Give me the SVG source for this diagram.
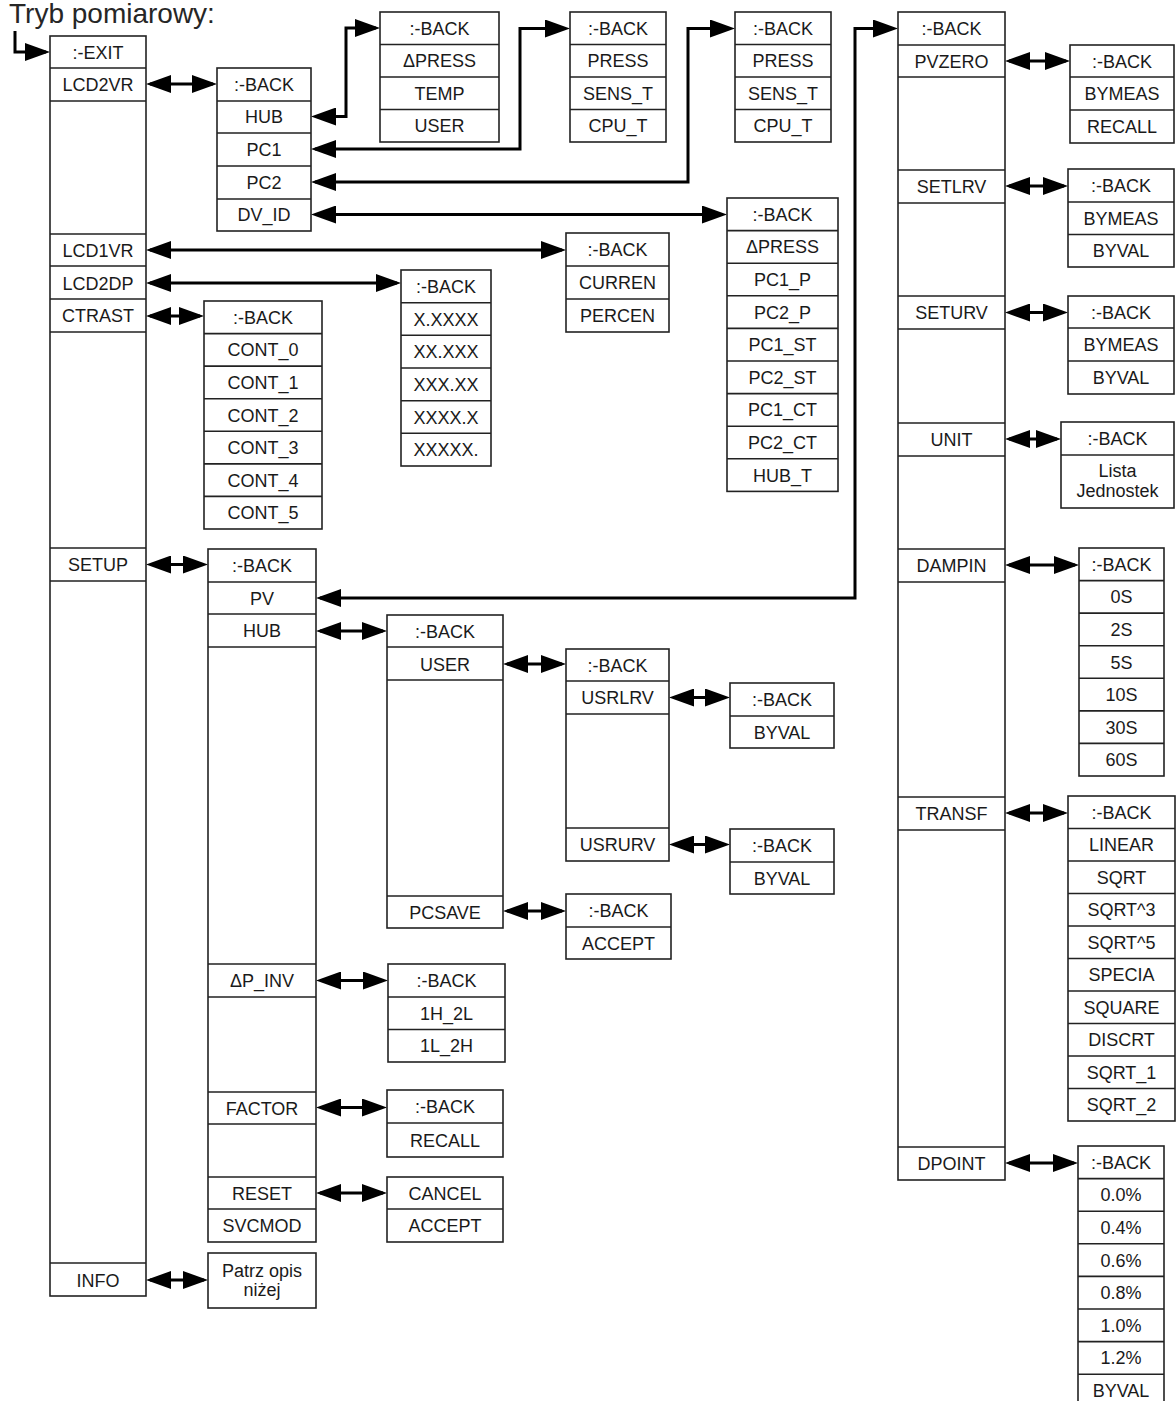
<svg xmlns="http://www.w3.org/2000/svg" width="1176" height="1401" viewBox="0 0 1176 1401">
<style>
.b{fill:#fff;stroke:#222;stroke-width:1.6}
.s{stroke:#222;stroke-width:1.6}
.t{font-family:"Liberation Sans",Arial,sans-serif;font-size:18px;fill:#1a1a1a;text-anchor:middle}
.c{fill:none;stroke:#000;stroke-width:3}
.title{font-family:"Liberation Sans",Arial,sans-serif;font-size:28px;fill:#262626}
</style>
<defs>
<marker id="ah" markerUnits="userSpaceOnUse" markerWidth="26" markerHeight="18" refX="21" refY="9" orient="auto-start-reverse">
<path d="M0,0 L25,9 L0,18 Z" fill="#000"/>
</marker>
</defs>
<rect width="1176" height="1401" fill="#fff"/>
<text class="title" x="9" y="23">Tryb pomiarowy:</text>

<g id="connectors">
<path class="c" d="M15,31 V52 H46" marker-end="url(#ah)"/>
<path class="c" d="M150,84 H213" marker-start="url(#ah)" marker-end="url(#ah)"/>
<path class="c" d="M315,116.5 H346 V28 H376" marker-start="url(#ah)" marker-end="url(#ah)"/>
<path class="c" d="M315,149 H520 V28.5 H566" marker-start="url(#ah)" marker-end="url(#ah)"/>
<path class="c" d="M315,182 H688 V28.5 H731" marker-start="url(#ah)" marker-end="url(#ah)"/>
<path class="c" d="M315,214.5 H723" marker-start="url(#ah)" marker-end="url(#ah)"/>
<path class="c" d="M150,250 H562" marker-start="url(#ah)" marker-end="url(#ah)"/>
<path class="c" d="M150,283 H397" marker-start="url(#ah)" marker-end="url(#ah)"/>
<path class="c" d="M150,316 H200" marker-start="url(#ah)" marker-end="url(#ah)"/>
<path class="c" d="M150,564.5 H204" marker-start="url(#ah)" marker-end="url(#ah)"/>
<path class="c" d="M150,1280 H204" marker-start="url(#ah)" marker-end="url(#ah)"/>
<path class="c" d="M320,598 H855 V28.5 H894" marker-start="url(#ah)" marker-end="url(#ah)"/>
<path class="c" d="M320,631 H383" marker-start="url(#ah)" marker-end="url(#ah)"/>
<path class="c" d="M507,664 H562" marker-start="url(#ah)" marker-end="url(#ah)"/>
<path class="c" d="M673,697.5 H726" marker-start="url(#ah)" marker-end="url(#ah)"/>
<path class="c" d="M673,844.5 H726" marker-start="url(#ah)" marker-end="url(#ah)"/>
<path class="c" d="M507,911 H562" marker-start="url(#ah)" marker-end="url(#ah)"/>
<path class="c" d="M320,980.5 H384" marker-start="url(#ah)" marker-end="url(#ah)"/>
<path class="c" d="M320,1107.5 H383" marker-start="url(#ah)" marker-end="url(#ah)"/>
<path class="c" d="M320,1193 H383" marker-start="url(#ah)" marker-end="url(#ah)"/>
<path class="c" d="M1009,61 H1066" marker-start="url(#ah)" marker-end="url(#ah)"/>
<path class="c" d="M1009,186 H1064" marker-start="url(#ah)" marker-end="url(#ah)"/>
<path class="c" d="M1009,312.5 H1064" marker-start="url(#ah)" marker-end="url(#ah)"/>
<path class="c" d="M1009,439 H1057" marker-start="url(#ah)" marker-end="url(#ah)"/>
<path class="c" d="M1009,565 H1075" marker-start="url(#ah)" marker-end="url(#ah)"/>
<path class="c" d="M1009,813 H1064" marker-start="url(#ah)" marker-end="url(#ah)"/>
<path class="c" d="M1009,1163 H1074" marker-start="url(#ah)" marker-end="url(#ah)"/>
</g>

<g id="main-menu">
<rect class="b" x="50" y="36" width="96" height="1260"/>
<path class="s" d="M50,68H146M50,101H146M50,234H146M50,266H146M50,299H146M50,332H146M50,548H146M50,581H146M50,1263H146"/>
<text class="t" x="98" y="58.5">:-EXIT</text>
<text class="t" x="98" y="90.5">LCD2VR</text>
<text class="t" x="98" y="256.5">LCD1VR</text>
<text class="t" x="98" y="289.5">LCD2DP</text>
<text class="t" x="98" y="321.5">CTRAST</text>
<text class="t" x="98" y="571">SETUP</text>
<text class="t" x="98" y="1286.5">INFO</text>
</g>

<g id="lcd2vr-menu">
<rect class="b" x="217" y="68" width="94" height="163"/>
<path class="s" d="M217,101H311M217,133H311M217,166H311M217,199H311"/>
<text class="t" x="264" y="90.5">:-BACK</text>
<text class="t" x="264" y="123">HUB</text>
<text class="t" x="264" y="155.5">PC1</text>
<text class="t" x="264" y="188.5">PC2</text>
<text class="t" x="264" y="221">DV_ID</text>
</g>

<g id="hub-values">
<rect class="b" x="380" y="12" width="119" height="130"/>
<path class="s" d="M380,44.5H499M380,77H499M380,109.5H499"/>
<text class="t" x="439.5" y="34.5">:-BACK</text>
<text class="t" x="439.5" y="67">ΔPRESS</text>
<text class="t" x="439.5" y="99.5">TEMP</text>
<text class="t" x="439.5" y="132">USER</text>
</g>

<g id="pc1-values">
<rect class="b" x="570" y="12" width="96" height="130"/>
<path class="s" d="M570,44.5H666M570,77H666M570,109.5H666"/>
<text class="t" x="618" y="34.5">:-BACK</text>
<text class="t" x="618" y="67">PRESS</text>
<text class="t" x="618" y="99.5">SENS_T</text>
<text class="t" x="618" y="132">CPU_T</text>
</g>

<g id="pc2-values">
<rect class="b" x="735" y="12" width="96" height="130"/>
<path class="s" d="M735,44.5H831M735,77H831M735,109.5H831"/>
<text class="t" x="783" y="34.5">:-BACK</text>
<text class="t" x="783" y="67">PRESS</text>
<text class="t" x="783" y="99.5">SENS_T</text>
<text class="t" x="783" y="132">CPU_T</text>
</g>

<g id="dvid-values">
<rect class="b" x="727" y="198" width="111" height="293.4"/>
<path class="s" d="M727,230.6H838M727,263.2H838M727,295.8H838M727,328.4H838M727,361H838M727,393.6H838M727,426.2H838M727,458.8H838"/>
<text class="t" x="782.5" y="220.8">:-BACK</text>
<text class="t" x="782.5" y="253.4">ΔPRESS</text>
<text class="t" x="782.5" y="286">PC1_P</text>
<text class="t" x="782.5" y="318.6">PC2_P</text>
<text class="t" x="782.5" y="351.2">PC1_ST</text>
<text class="t" x="782.5" y="383.8">PC2_ST</text>
<text class="t" x="782.5" y="416.4">PC1_CT</text>
<text class="t" x="782.5" y="449">PC2_CT</text>
<text class="t" x="782.5" y="481.6">HUB_T</text>
</g>

<g id="lcd1vr-values">
<rect class="b" x="566" y="233" width="103" height="99"/>
<path class="s" d="M566,266H669M566,299H669"/>
<text class="t" x="617.5" y="256">:-BACK</text>
<text class="t" x="617.5" y="289">CURREN</text>
<text class="t" x="617.5" y="322">PERCEN</text>
</g>

<g id="lcd2dp-values">
<rect class="b" x="401" y="270" width="90" height="196"/>
<path class="s" d="M401,302.7H491M401,335.3H491M401,368H491M401,400.7H491M401,433.3H491"/>
<text class="t" x="446" y="292.8">:-BACK</text>
<text class="t" x="446" y="325.5">X.XXXX</text>
<text class="t" x="446" y="358.2">XX.XXX</text>
<text class="t" x="446" y="390.8">XXX.XX</text>
<text class="t" x="446" y="423.5">XXXX.X</text>
<text class="t" x="446" y="456.2">XXXXX.</text>
</g>

<g id="ctrast-values">
<rect class="b" x="204" y="301" width="118" height="228"/>
<path class="s" d="M204,333.6H322M204,366.1H322M204,398.7H322M204,431.3H322M204,463.9H322M204,496.4H322"/>
<text class="t" x="263" y="323.8">:-BACK</text>
<text class="t" x="263" y="356.4">CONT_0</text>
<text class="t" x="263" y="388.9">CONT_1</text>
<text class="t" x="263" y="421.5">CONT_2</text>
<text class="t" x="263" y="454.1">CONT_3</text>
<text class="t" x="263" y="486.6">CONT_4</text>
<text class="t" x="263" y="519.2">CONT_5</text>
</g>

<g id="setup-menu">
<rect class="b" x="208" y="549" width="108" height="693"/>
<path class="s" d="M208,582H316M208,614H316M208,647H316M208,964H316M208,997H316M208,1092H316M208,1124H316M208,1177H316M208,1209H316"/>
<text class="t" x="262" y="572">:-BACK</text>
<text class="t" x="262" y="604.5">PV</text>
<text class="t" x="262" y="637">HUB</text>
<text class="t" x="262" y="987">ΔP_INV</text>
<text class="t" x="262" y="1114.5">FACTOR</text>
<text class="t" x="262" y="1199.5">RESET</text>
<text class="t" x="262" y="1232">SVCMOD</text>
</g>

<g id="info-box">
<rect class="b" x="208" y="1253" width="108" height="55"/>
<text class="t" x="262" y="1277">Patrz opis</text>
<text class="t" x="262" y="1296">niżej</text>
</g>

<g id="setup-hub-menu">
<rect class="b" x="387" y="615" width="116" height="313"/>
<path class="s" d="M387,647H503M387,680H503M387,896H503"/>
<text class="t" x="445" y="637.5">:-BACK</text>
<text class="t" x="445" y="670.5">USER</text>
<text class="t" x="445" y="918.5">PCSAVE</text>
</g>

<g id="user-menu">
<rect class="b" x="566" y="649" width="103" height="212"/>
<path class="s" d="M566,681H669M566,714H669M566,828H669"/>
<text class="t" x="617.5" y="671.5">:-BACK</text>
<text class="t" x="617.5" y="704">USRLRV</text>
<text class="t" x="617.5" y="851">USRURV</text>
</g>

<g id="usrlrv-values">
<rect class="b" x="730" y="683" width="104" height="65"/>
<path class="s" d="M730,716H834"/>
<text class="t" x="782" y="706">:-BACK</text>
<text class="t" x="782" y="738.5">BYVAL</text>
</g>

<g id="usrurv-values">
<rect class="b" x="730" y="829" width="104" height="65"/>
<path class="s" d="M730,862H834"/>
<text class="t" x="782" y="852">:-BACK</text>
<text class="t" x="782" y="884.5">BYVAL</text>
</g>

<g id="pcsave-values">
<rect class="b" x="566" y="894" width="105" height="65"/>
<path class="s" d="M566,927H671"/>
<text class="t" x="618.5" y="917">:-BACK</text>
<text class="t" x="618.5" y="949.5">ACCEPT</text>
</g>

<g id="dpinv-values">
<rect class="b" x="388" y="964" width="117" height="98"/>
<path class="s" d="M388,997H505M388,1029.5H505"/>
<text class="t" x="446.5" y="987">:-BACK</text>
<text class="t" x="446.5" y="1019.5">1H_2L</text>
<text class="t" x="446.5" y="1052">1L_2H</text>
</g>

<g id="factor-values">
<rect class="b" x="387" y="1090" width="116" height="67"/>
<path class="s" d="M387,1123H503"/>
<text class="t" x="445" y="1113">:-BACK</text>
<text class="t" x="445" y="1146.5">RECALL</text>
</g>

<g id="reset-values">
<rect class="b" x="387" y="1177" width="116" height="65"/>
<path class="s" d="M387,1209H503"/>
<text class="t" x="445" y="1199.5">CANCEL</text>
<text class="t" x="445" y="1232">ACCEPT</text>
</g>

<g id="pv-menu">
<rect class="b" x="898" y="12" width="107" height="1168"/>
<path class="s" d="M898,45H1005M898,77H1005M898,170H1005M898,203H1005M898,296H1005M898,329H1005M898,423H1005M898,456H1005M898,549H1005M898,582H1005M898,797H1005M898,830H1005M898,1147H1005"/>
<text class="t" x="951.5" y="35">:-BACK</text>
<text class="t" x="951.5" y="67.5">PVZERO</text>
<text class="t" x="951.5" y="193">SETLRV</text>
<text class="t" x="951.5" y="319">SETURV</text>
<text class="t" x="951.5" y="446">UNIT</text>
<text class="t" x="951.5" y="572">DAMPIN</text>
<text class="t" x="951.5" y="820">TRANSF</text>
<text class="t" x="951.5" y="1170">DPOINT</text>
</g>

<g id="pvzero-values">
<rect class="b" x="1070" y="45" width="104" height="98"/>
<path class="s" d="M1070,77H1174M1070,110H1174"/>
<text class="t" x="1122" y="67.5">:-BACK</text>
<text class="t" x="1122" y="100">BYMEAS</text>
<text class="t" x="1122" y="133">RECALL</text>
</g>

<g id="setlrv-values">
<rect class="b" x="1068" y="169" width="106" height="98"/>
<path class="s" d="M1068,202H1174M1068,234.5H1174"/>
<text class="t" x="1121" y="192">:-BACK</text>
<text class="t" x="1121" y="224.5">BYMEAS</text>
<text class="t" x="1121" y="257">BYVAL</text>
</g>

<g id="seturv-values">
<rect class="b" x="1068" y="296" width="106" height="98"/>
<path class="s" d="M1068,328H1174M1068,361H1174"/>
<text class="t" x="1121" y="318.5">:-BACK</text>
<text class="t" x="1121" y="351">BYMEAS</text>
<text class="t" x="1121" y="384">BYVAL</text>
</g>

<g id="unit-values">
<rect class="b" x="1061" y="422" width="113" height="86"/>
<path class="s" d="M1061,455H1174"/>
<text class="t" x="1117.5" y="445">:-BACK</text>
<text class="t" x="1117.5" y="477">Lista</text>
<text class="t" x="1117.5" y="497">Jednostek</text>
</g>

<g id="dampin-values">
<rect class="b" x="1079" y="548" width="85" height="228"/>
<path class="s" d="M1079,580.6H1164M1079,613.1H1164M1079,645.7H1164M1079,678.3H1164M1079,710.9H1164M1079,743.4H1164"/>
<text class="t" x="1121.5" y="570.8">:-BACK</text>
<text class="t" x="1121.5" y="603.4">0S</text>
<text class="t" x="1121.5" y="635.9">2S</text>
<text class="t" x="1121.5" y="668.5">5S</text>
<text class="t" x="1121.5" y="701.1">10S</text>
<text class="t" x="1121.5" y="733.6">30S</text>
<text class="t" x="1121.5" y="766.2">60S</text>
</g>

<g id="transf-values">
<rect class="b" x="1068" y="796" width="107" height="325"/>
<path class="s" d="M1068,828.5H1175M1068,861H1175M1068,893.5H1175M1068,926H1175M1068,958.5H1175M1068,991H1175M1068,1023.5H1175M1068,1056H1175M1068,1088.5H1175"/>
<text class="t" x="1121.5" y="818.8">:-BACK</text>
<text class="t" x="1121.5" y="851.3">LINEAR</text>
<text class="t" x="1121.5" y="883.8">SQRT</text>
<text class="t" x="1121.5" y="916.3">SQRT^3</text>
<text class="t" x="1121.5" y="948.8">SQRT^5</text>
<text class="t" x="1121.5" y="981.3">SPECIA</text>
<text class="t" x="1121.5" y="1013.8">SQUARE</text>
<text class="t" x="1121.5" y="1046.3">DISCRT</text>
<text class="t" x="1121.5" y="1078.8">SQRT_1</text>
<text class="t" x="1121.5" y="1111.3">SQRT_2</text>
</g>

<g id="dpoint-values">
<rect class="b" x="1078" y="1146" width="86" height="261"/>
<path class="s" d="M1078,1178.6H1164M1078,1211.2H1164M1078,1243.8H1164M1078,1276.4H1164M1078,1309H1164M1078,1341.6H1164M1078,1374.2H1164"/>
<text class="t" x="1121" y="1168.8">:-BACK</text>
<text class="t" x="1121" y="1201.4">0.0%</text>
<text class="t" x="1121" y="1234">0.4%</text>
<text class="t" x="1121" y="1266.6">0.6%</text>
<text class="t" x="1121" y="1299.2">0.8%</text>
<text class="t" x="1121" y="1331.8">1.0%</text>
<text class="t" x="1121" y="1364.4">1.2%</text>
<text class="t" x="1121" y="1397">BYVAL</text>
</g>
</svg>
